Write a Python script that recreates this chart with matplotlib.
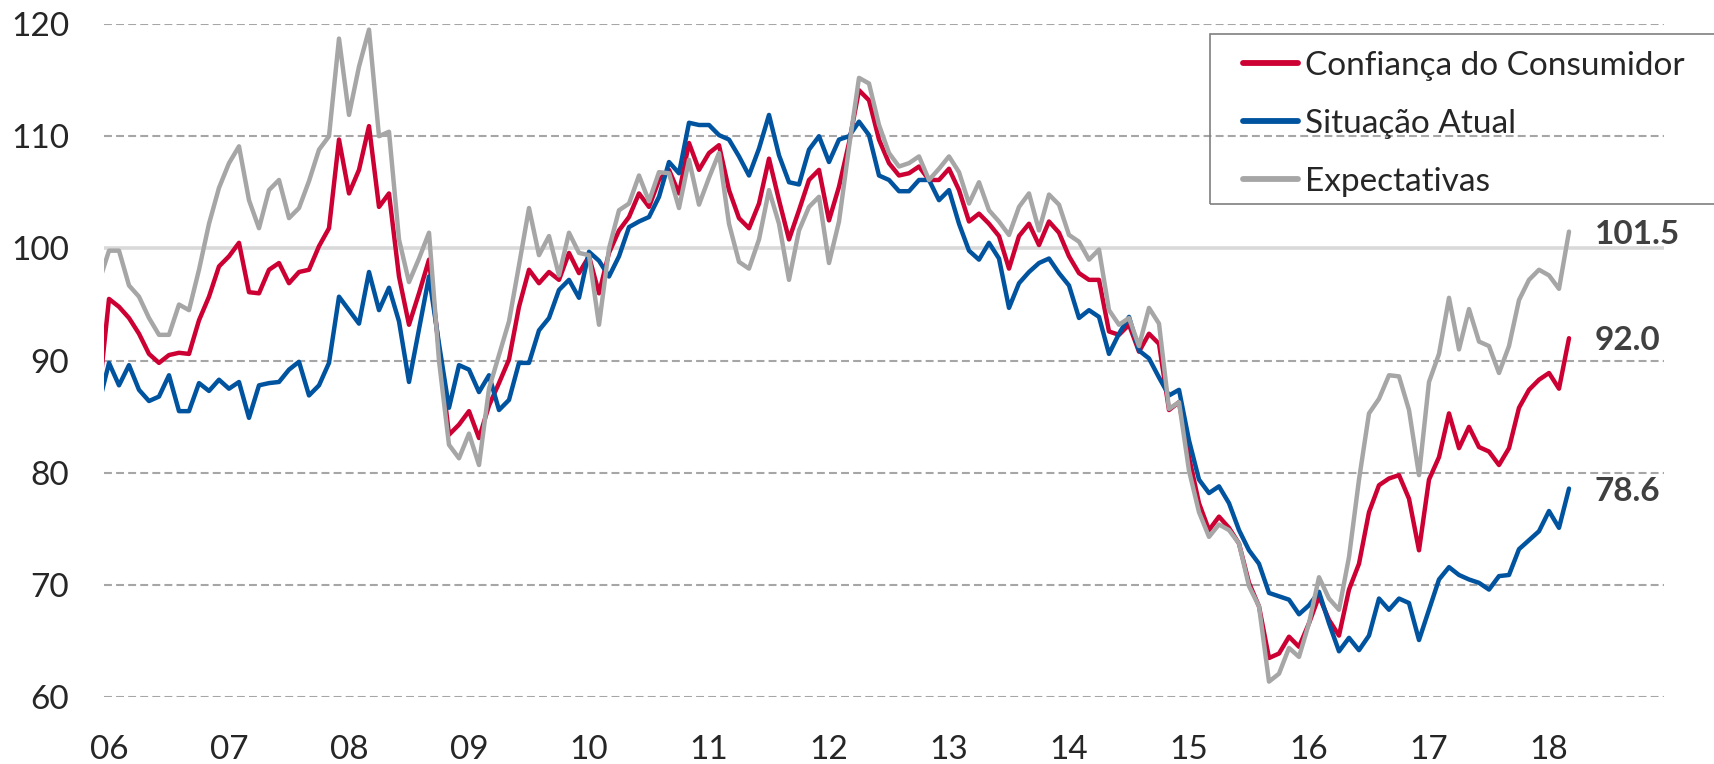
import numpy as np
import matplotlib
matplotlib.use("Agg")
import matplotlib.pyplot as plt
from matplotlib.patches import Rectangle

# monthly series, Dec/2005 .. Mar/2018 (first point only feeds the clipped edge)
confianca = [87.0,
    95.5, 94.8, 93.8, 92.4, 90.6, 89.8, 90.5, 90.7, 90.6, 93.6, 95.7, 98.4,
    99.3, 100.5, 96.1, 96.0, 98.1, 98.7, 96.9, 97.9, 98.1, 100.2, 101.8, 109.7,
    104.9, 107.0, 110.9, 103.7, 104.9, 97.5, 93.2, 96.0, 99.0, 91.0, 83.4, 84.3,
    85.5, 83.1, 86.0, 88.0, 90.1, 94.8, 98.1, 96.9, 97.9, 97.2, 99.6, 97.8,
    99.3, 96.0, 99.6, 101.6, 102.8, 104.9, 103.7, 106.1, 107.0, 104.9, 109.4, 107.0,
    108.5, 109.2, 105.2, 102.7, 101.8, 104.0, 108.0, 104.3, 100.8, 103.4, 106.1, 107.0,
    102.5, 105.5, 109.4, 114.1, 113.2, 109.7, 107.6, 106.5, 106.7, 107.3, 106.1, 106.1,
    107.1, 105.2, 102.4, 103.1, 102.2, 101.1, 98.2, 101.1, 102.2, 100.3, 102.4, 101.4,
    99.3, 97.8, 97.2, 97.2, 92.6, 92.3, 93.2, 90.8, 92.4, 91.5, 85.6, 86.3,
    81.4, 77.3, 74.9, 76.1, 75.1, 73.7, 70.2, 68.1, 63.5, 63.9, 65.4, 64.5,
    66.6, 69.0, 66.9, 65.5, 69.6, 71.9, 76.5, 78.9, 79.5, 79.8, 77.7, 73.1,
    79.4, 81.4, 85.3, 82.2, 84.1, 82.3, 81.9, 80.7, 82.2, 85.8, 87.4, 88.3,
    88.9, 87.5, 92.0]

situacao = [86.2,
    89.8, 87.8, 89.6, 87.4, 86.4, 86.8, 88.7, 85.5, 85.5, 88.0, 87.3, 88.3,
    87.5, 88.1, 84.9, 87.8, 88.0, 88.1, 89.2, 89.9, 86.9, 87.8, 89.8, 95.7,
    94.5, 93.3, 97.9, 94.5, 96.5, 93.5, 88.1, 92.8, 97.5, 91.5, 85.8, 89.6,
    89.2, 87.2, 88.7, 85.6, 86.5, 89.8, 89.8, 92.7, 93.8, 96.3, 97.2, 95.6,
    99.7, 98.9, 97.5, 99.3, 101.9, 102.4, 102.8, 104.6, 107.7, 106.7, 111.2, 111.0,
    111.0, 110.1, 109.7, 108.2, 106.5, 108.9, 111.9, 108.3, 105.9, 105.7, 108.8, 110.0,
    107.7, 109.7, 110.0, 111.3, 110.1, 106.5, 106.1, 105.1, 105.1, 106.1, 106.1, 104.3,
    105.2, 102.2, 99.8, 99.0, 100.5, 99.1, 94.7, 96.9, 97.9, 98.7, 99.1, 97.8,
    96.7, 93.8, 94.5, 93.9, 90.6, 92.4, 93.9, 90.9, 90.2, 88.5, 86.9, 87.4,
    82.9, 79.4, 78.2, 78.8, 77.3, 74.9, 73.1, 71.9, 69.3, 69.0, 68.7, 67.4,
    68.2, 69.4, 66.6, 64.1, 65.3, 64.2, 65.5, 68.8, 67.8, 68.8, 68.4, 65.1,
    67.8, 70.5, 71.6, 70.9, 70.5, 70.2, 69.6, 70.8, 70.9, 73.2, 74.0, 74.8,
    76.6, 75.1, 78.6]

expectativas = [97.0,
    99.8, 99.8, 96.7, 95.7, 93.8, 92.3, 92.3, 95.0, 94.5, 98.1, 102.2, 105.4,
    107.6, 109.1, 104.3, 101.8, 105.2, 106.1, 102.7, 103.6, 106.0, 108.8, 110.0, 118.7,
    111.9, 116.2, 119.5, 110.0, 110.4, 100.8, 97.0, 99.1, 101.4, 90.0, 82.5, 81.3,
    83.5, 80.7, 87.5, 90.5, 93.5, 98.5, 103.6, 99.4, 101.1, 97.6, 101.4, 99.6,
    99.4, 93.2, 100.0, 103.4, 104.0, 106.5, 104.2, 106.8, 106.7, 103.6, 107.9, 103.9,
    106.3, 108.5, 102.2, 98.8, 98.2, 100.8, 105.2, 102.2, 97.2, 101.6, 103.7, 104.6,
    98.7, 102.4, 109.0, 115.2, 114.7, 111.0, 108.5, 107.3, 107.6, 108.2, 106.1, 107.1,
    108.2, 106.8, 104.0, 105.9, 103.4, 102.4, 101.2, 103.7, 104.9, 101.6, 104.8, 103.9,
    101.2, 100.6, 99.0, 99.9, 94.5, 93.2, 93.8, 91.3, 94.7, 93.3, 85.7, 86.3,
    80.2, 76.5, 74.3, 75.4, 74.9, 73.7, 69.9, 68.1, 61.4, 62.1, 64.4, 63.6,
    66.6, 70.7, 68.8, 67.8, 72.5, 79.4, 85.3, 86.6, 88.7, 88.6, 85.6, 79.8,
    88.1, 90.6, 95.6, 91.0, 94.6, 91.7, 91.3, 88.9, 91.3, 95.4, 97.2, 98.1,
    97.6, 96.4, 101.5]

series_names = ['Confiança do Consumidor', 'Situação Atual', 'Expectativas']
year_labels = ['06', '07', '08', '09', '10', '11', '12', '13', '14', '15', '16', '17', '18']

colors = ['#CC0033', '#00539F', '#A6A6A6']
font = ['Lato', 'DejaVu Sans']
text_color = '#262626'

plt.rcParams['font.family'] = font

fig = plt.figure(figsize=(17.14, 7.64), dpi=100)
ax = fig.add_axes([104 / 1714, 1 - 697.3 / 764, 1560 / 1714, (697.3 - 24) / 764])

months = np.arange(len(confianca)) - 1

# grid: dashed, with a solid light line at 100
for level in range(60, 121, 10):
    if level == 100:
        ax.axhline(level, color='#D9D9D9', lw=2.6, zorder=1)
    else:
        ax.axhline(level, color='#A6A6A6', lw=1.5, ls=(0, (3.8, 2.0)), zorder=1)

for values, name, color in zip([confianca, situacao, expectativas], series_names, colors):
    ax.plot(months, values, color=color, lw=3.2, label=name, zorder=3,
            solid_joinstyle='round', solid_capstyle='round')

for values in [expectativas, confianca, situacao]:
    ax.annotate('{:.1f}'.format(values[-1]), xy=(months[-1], values[-1]),
                xytext=(18.5, -2), textcoords='offset points', ha='left', va='center',
                fontsize=24, fontweight='bold', color='#404040')

ax.set_xlim(-0.5, 155.5)
ax.set_ylim(60, 120)
ax.set_xticks(np.arange(0, 12 * len(year_labels), 12))
ax.set_xticklabels(year_labels)
ax.set_yticks(np.arange(60, 121, 10))
ax.tick_params(axis='both', length=0, labelsize=24, colors=text_color)
ax.tick_params(axis='y', pad=25)
ax.tick_params(axis='x', pad=27)
for spine in ax.spines.values():
    spine.set_visible(False)

leg = ax.legend(loc='upper left', bbox_to_anchor=(1243 / 1714, 1 - 51 / 764),
                bbox_transform=fig.transFigure, frameon=False, fontsize=24,
                handlelength=1.65, handletextpad=0.2, labelspacing=0.84,
                borderpad=0, borderaxespad=0)
for text in leg.get_texts():
    text.set_color(text_color)
for line in leg.get_lines():
    line.set_linewidth(4.2)

fig.patches.append(Rectangle((1210 / 1714, 1 - 204 / 764), 510 / 1714, 170 / 764,
                             transform=fig.transFigure, fill=False,
                             edgecolor='#7F7F7F', lw=1.2))

fig.savefig('out.png', dpi=100)
